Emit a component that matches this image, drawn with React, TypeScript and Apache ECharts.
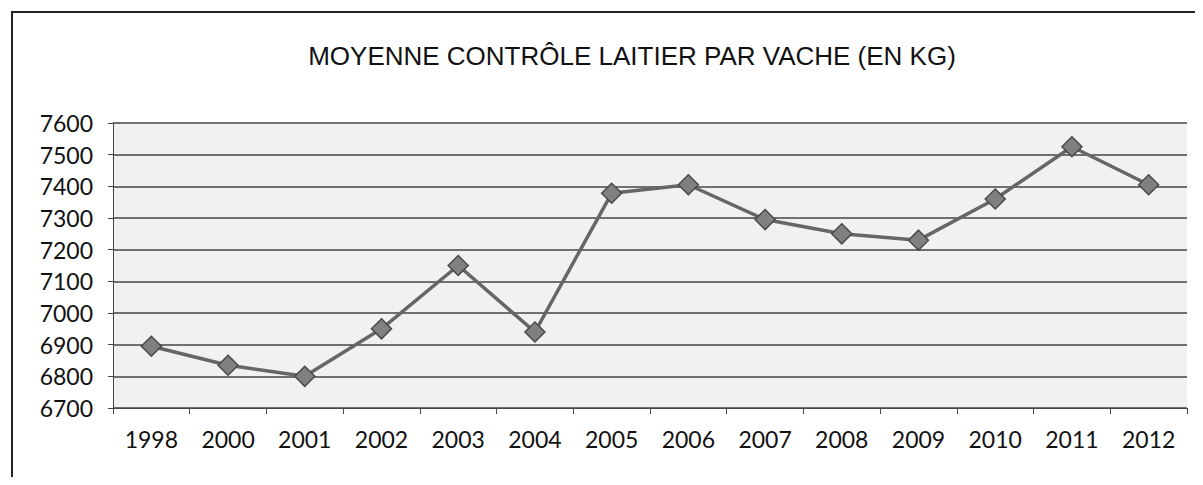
import React, { useEffect, useRef } from "react";
import * as echarts from "echarts";

const years = ["1998", "2000", "2001", "2002", "2003", "2004", "2005", "2006", "2007", "2008", "2009", "2010", "2011", "2012"];
const milkKg = [6895, 6835, 6800, 6950, 7150, 6940, 7378, 7405, 7295, 7250, 7230, 7360, 7525, 7405];
const titleText = "MOYENNE CONTRÔLE LAITIER PAR VACHE (EN KG)";

export default function App() {
  const ref = useRef<HTMLDivElement>(null);
  useEffect(() => {
    const chart = echarts.init(ref.current!, undefined, { renderer: "svg" });
    chart.setOption({
      animation: false,
      backgroundColor: "#ffffff",
      title: {
        text: titleText,
        left: 627,
        textAlign: "center",
        top: 38,
        textStyle: { fontFamily: "Liberation Sans", fontSize: 26, fontWeight: "normal", color: "#111" },
      },
      graphic: [
        {
          type: "rect",
          shape: { x: 12, y: 12, width: 1250, height: 520 },
          style: { fill: "none", stroke: "#222", lineWidth: 2 },
          silent: true,
        },
      ],
      grid: { left: 113, right: 16, top: 123, bottom: 77, show: true, backgroundColor: "#f1f1f1", borderWidth: 0 },
      xAxis: {
        type: "category",
        data: years,
        boundaryGap: true,
        axisLine: { show: true, lineStyle: { color: "#444", width: 1 } },
        axisTick: { show: true, length: 6, alignWithLabel: false, lineStyle: { color: "#444" } },
        axisLabel: { fontFamily: "Lato", fontSize: 23, color: "#111", margin: 19 },
        splitLine: { show: false },
      },
      yAxis: {
        type: "value",
        min: 6700,
        max: 7600,
        interval: 100,
        axisLine: { show: true, lineStyle: { color: "#444", width: 1 } },
        axisTick: { show: true, length: 5, lineStyle: { color: "#444" } },
        axisLabel: { fontFamily: "Lato", fontSize: 23, color: "#111", margin: 20, formatter: (v: number) => String(v) },
        splitLine: { show: true, lineStyle: { color: "#444", width: 1.5 } },
      },
      series: [
        {
          type: "line",
          data: milkKg,
          symbol: "diamond",
          symbolSize: 20,
          lineStyle: { color: "#666", width: 3.5 },
          itemStyle: { color: "#808080", borderColor: "#4a4a4a", borderWidth: 1.5 },
        },
      ],
    });
    return () => chart.dispose();
  }, []);
  return <div ref={ref} style={{ width: 1203, height: 485, margin: -8 }} />;
}
